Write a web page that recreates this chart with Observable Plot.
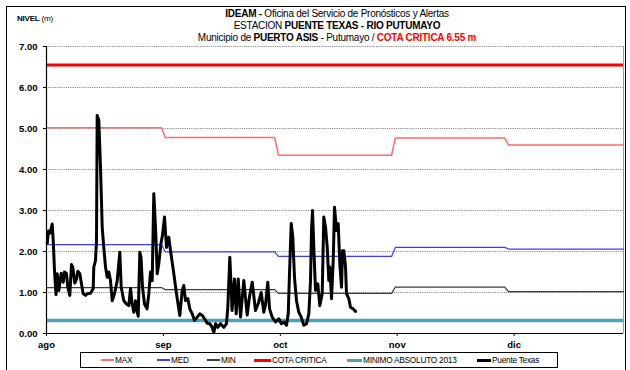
<!DOCTYPE html>
<html>
<head>
<meta charset="utf-8">
<script src="https://cdn.jsdelivr.net/npm/d3@7"></script>
<script src="https://cdn.jsdelivr.net/npm/@observablehq/plot@0.6"></script>
<style>
  body { margin: 0; background: #fff; }
  #chart { position: relative; width: 630px; height: 370px; overflow: hidden;
           font-family: "Liberation Sans", Arial, sans-serif; color: #000; }
  #chart svg { position: absolute; left: 0; top: 0; }
  .border { position: absolute; left: 6px; top: 6px; width: 620px; height: 366px; border: 1.5px solid #000; box-sizing: border-box; }
  .title { position: absolute; left: 0; top: 8px; width: 674px; text-align: center; font-size: 10px; line-height: 12px; letter-spacing: -0.25px; white-space: nowrap; }
  .title b { font-weight: bold; }
  .red { color: #ff0000; font-weight: bold; }
  .unit { position: absolute; left: 17px; top: 14px; font-size: 8px; white-space: nowrap; letter-spacing: -0.2px; }
  .legend { position: absolute; left: 80px; top: 352px; width: 478px; height: 16px; border: 1px solid #000; box-sizing: border-box; background: #fff; }
  .sw { position: absolute; }
  .lt { position: absolute; top: 2px; font-size: 8.3px; line-height: 10px; white-space: nowrap; letter-spacing: -0.25px; }
</style>
</head>
<body>
<div id="chart"></div>
<script>
// Days counted from 1 August; axis runs to 1 January.
const xDomain = [0, 153];
const tickDays = [0, 31, 62, 93, 124];
const monthLabels = ["ago", "sep", "oct", "nov", "dic"];
const levelTicks = [0, 1, 2, 3, 4, 5, 6, 7];

// Monthly reference levels (m), August to December
const monthStart = [0, 31, 61, 92, 122];
const monthEnd = [31, 61, 92, 122, 153];
const maxLevels = [5.02, 4.78, 4.35, 4.77, 4.60];
const medLevels = [2.17, 1.99, 1.88, 2.10, 2.06];
const minLevels = [1.12, 1.07, 0.98, 1.13, 1.02];

const cotaCritica = 6.55;
const minimoAbsoluto2013 = 0.32;

// Puente Texas readings: day offset from 1 August and water level (m)
const texasDay = [
  0.19, 0.53, 0.93, 1.51, 1.78, 2.12, 2.52, 2.84, 3.26, 3.90, 4.43, 4.77, 5.30, 5.65, 6.18, 6.63,
  6.97, 7.50, 7.96, 8.30, 8.83, 9.20, 9.73, 10.34, 10.79, 11.67, 12.38, 12.54, 12.99, 13.26, 13.44, 13.87,
  14.32, 14.77, 15.19, 15.65, 16.10, 16.52, 16.97, 17.42, 18.03, 18.75, 19.44, 19.81, 20.50, 21.21, 21.82, 22.28,
  22.67, 23.15, 23.60, 24.00, 24.32, 24.74, 25.06, 25.46, 25.99, 26.65, 27.13, 27.58, 28.03, 28.45, 28.90, 29.36,
  29.78, 30.36, 30.76, 31.29, 31.82, 32.43, 32.88, 33.76, 34.47, 35.35, 35.99, 36.41, 36.86, 37.47, 38.00, 38.64,
  39.25, 39.96, 40.65, 41.29, 41.90, 42.61, 43.30, 43.94, 44.36, 44.82, 45.43, 46.14, 47.02, 47.73, 48.08, 48.61,
  48.98, 49.19, 49.85, 50.30, 50.84, 51.45, 52.32, 53.22, 53.83, 54.55, 55.42, 56.22, 56.93, 57.62, 58.07, 58.68,
  59.14, 59.85, 60.73, 61.60, 62.24, 62.93, 63.64, 64.10, 64.52, 64.89, 65.31, 65.76, 66.29, 66.90, 67.54, 68.23,
  68.95, 69.56, 70.01, 70.27, 70.54, 70.88, 71.33, 71.94, 72.47, 73.11, 73.53, 73.99, 74.44, 74.86, 75.13, 75.58,
  76.03, 76.37, 76.90, 77.35, 77.78, 78.23, 78.49, 78.84, 79.29, 79.55, 80.16, 80.61, 81.33, 81.94
];
const texasLevel = [
  2.20, 2.50, 2.45, 2.67, 2.27, 1.54, 0.95, 1.46, 1.05, 1.47, 1.25, 1.50, 1.46, 1.13, 0.93, 1.68,
  1.62, 1.23, 1.33, 1.52, 1.46, 1.25, 0.97, 0.93, 0.97, 0.98, 1.09, 1.62, 1.78, 2.27, 5.32, 5.20,
  4.06, 2.59, 2.10, 1.62, 1.37, 1.50, 1.29, 0.80, 0.97, 1.29, 1.98, 1.13, 0.80, 0.72, 0.68, 1.10,
  0.75, 0.52, 0.80, 0.55, 0.42, 1.98, 1.86, 1.13, 0.72, 0.60, 0.97, 1.50, 1.29, 3.41, 2.60, 1.46,
  1.70, 2.20, 2.40, 2.84, 2.10, 2.35, 2.02, 1.46, 0.97, 0.44, 1.05, 1.17, 0.80, 0.85, 0.60, 0.48,
  0.32, 0.40, 0.48, 0.44, 0.36, 0.25, 0.24, 0.15, 0.02, 0.24, 0.15, 0.24, 0.15, 0.24, 0.64, 1.86,
  1.10, 0.56, 1.33, 0.48, 1.33, 0.40, 1.29, 0.45, 0.90, 1.25, 0.56, 0.75, 1.00, 0.52, 0.70, 1.25,
  0.60, 0.40, 0.28, 0.36, 0.24, 0.28, 0.20, 0.48, 1.70, 2.68, 2.35, 1.37, 0.80, 0.52, 0.40, 0.20,
  0.24, 0.48, 1.29, 2.51, 3.00, 2.10, 1.05, 1.21, 0.68, 0.97, 2.84, 2.59, 2.10, 1.29, 1.62, 0.85,
  1.78, 3.08, 2.51, 2.68, 1.70, 1.13, 2.02, 2.02, 1.62, 0.97, 0.85, 0.64, 0.60, 0.54
];

const colors = {
  max: "#ff6b6b",
  med: "#3b3bff",
  min: "#3c3c3c",
  cota: "#ff0000",
  minimo: "#4aa3bd",
  texas: "#000000"
};

// Monthly levels drawn as plateaus joined by a one-day slope at each month change
function monthlySeries(levels) {
  const pts = [];
  levels.forEach((v, m) => {
    pts.push({day: m === 0 ? monthStart[m] : monthStart[m] + 0.5, level: v});
    pts.push({day: m === levels.length - 1 ? monthEnd[m] : monthEnd[m] - 0.5, level: v});
  });
  return pts;
}

const texas = texasDay.map((d, i) => ({day: d, level: texasLevel[i]}));
const font = "Liberation Sans, Arial, sans-serif";

const plot = Plot.plot({
  width: 630,
  height: 370,
  marginLeft: 46,
  marginRight: 7,
  marginTop: 46,
  marginBottom: 37,
  style: {fontFamily: font, background: "transparent"},
  x: {domain: xDomain, label: null},
  y: {domain: [0, 7], label: null},
  marks: [
    Plot.gridY(levelTicks.filter(d => d > 0), {stroke: "#8c8c8c", strokeOpacity: 1, strokeDasharray: "1.2,1", strokeWidth: 1}),
    Plot.ruleX([xDomain[1]], {stroke: "#9a9a9a", strokeWidth: 1}),
    Plot.ruleY([minimoAbsoluto2013], {stroke: colors.minimo, strokeWidth: 3.5}),
    Plot.ruleY([cotaCritica], {stroke: colors.cota, strokeWidth: 3}),
    Plot.line(monthlySeries(maxLevels), {x: "day", y: "level", stroke: colors.max, strokeWidth: 1.5}),
    Plot.line(monthlySeries(medLevels), {x: "day", y: "level", stroke: colors.med, strokeWidth: 1.2}),
    Plot.line(monthlySeries(minLevels), {x: "day", y: "level", stroke: colors.min, strokeWidth: 1.2}),
    Plot.line(texas, {x: "day", y: "level", stroke: colors.texas, strokeWidth: 3, strokeLinejoin: "round", strokeLinecap: "round"}),
    Plot.ruleX([xDomain[0]], {stroke: "#000", strokeWidth: 1.2}),
    Plot.ruleY([0], {stroke: "#000", strokeWidth: 1.2}),
    Plot.axisX({
      ticks: tickDays,
      tickFormat: d => monthLabels[tickDays.indexOf(d)],
      tickSize: 3,
      tickPadding: 5,
      fontSize: 9.5,
      fontWeight: "bold",
      stroke: "#000",
      label: null
    }),
    Plot.axisY({
      ticks: levelTicks,
      tickFormat: d => d.toFixed(2),
      tickSize: 3,
      tickPadding: 6,
      fontSize: 9.5,
      fontWeight: "bold",
      stroke: "#000",
      label: null
    })
  ]
});

const chart = document.getElementById("chart");
chart.appendChild(plot);

chart.insertAdjacentHTML("beforeend", `
  <div class="border"></div>
  <div class="unit"><b>NIVEL</b> (m)</div>
  <div class="title">
    <div><b>IDEAM -</b> Oficina del Servicio de Pronósticos y Alertas</div>
    <div>ESTACION <b>PUENTE TEXAS - RIO PUTUMAYO</b></div>
    <div>Municipio de <b>PUERTO ASIS</b> - Putumayo / <span class="red">COTA CRITICA 6.55 m</span></div>
  </div>
`);

// Legend entries: label, colour, swatch thickness, swatch left, label left (px inside box)
const legendItems = [
  ["MAX", colors.max, 1.5, 20, 34],
  ["MED", colors.med, 1.5, 76, 90],
  ["MIN", colors.min, 1.5, 126, 140],
  ["COTA CRITICA", colors.cota, 3, 173, 191],
  ["MINIMO ABSOLUTO 2013", colors.minimo, 3, 266, 282],
  ["Puente Texas", colors.texas, 3, 396, 411]
];
const legend = document.createElement("div");
legend.className = "legend";
legendItems.forEach(([label, color, w, sx, tx]) => {
  const sw = document.createElement("div");
  sw.className = "sw";
  sw.style.cssText = `left:${sx}px;top:${7 - w / 2}px;width:${tx - sx - 1}px;height:${w}px;background:${color}`;
  const t = document.createElement("div");
  t.className = "lt";
  t.style.left = tx + "px";
  t.textContent = label;
  legend.appendChild(sw);
  legend.appendChild(t);
});
chart.appendChild(legend);
</script>
</body>
</html>
